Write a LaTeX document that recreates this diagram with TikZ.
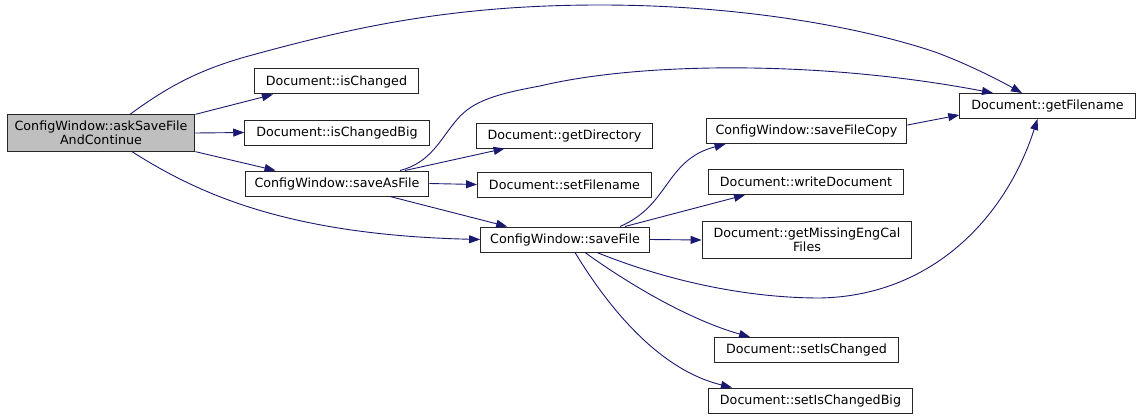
\documentclass[tikz,border=0pt]{standalone}
\usepackage{fontspec}
\setmainfont{DejaVu Sans}
\usepackage{xcolor}
\usetikzlibrary{arrows.meta}

\definecolor{midnight}{HTML}{191970}

\begin{document}
\begin{tikzpicture}[
    x=1pt, y=-1pt,
    fn/.style={
        rectangle,
        draw=black!85,
        line width=1pt,
        fill=white,
        align=center,
        inner xsep=11.5pt,
        inner ysep=6pt,
        minimum height=25pt,
        font=\fontsize{12.7}{14.5}\selectfont
    },
    cw/.style={fn, inner xsep=9.5pt},
    caller/.style={fn, fill=black!25, inner xsep=7.5pt},
    call/.style={draw=midnight, line width=0.9pt, -{Triangle[length=11pt, width=8pt]}}
]
\useasboundingbox (0,0) rectangle (1141,420);

% Caller
\node[caller] (ask) at (101,133) {ConfigWindow::askSaveFile\\AndContinue};

% First level
\node[fn] (ic)  at (336.5,81.5) {Document::isChanged};
\node[fn] (icb) at (337,132.5)  {Document::isChangedBig};
\node[cw] (saf) at (337,183.5)  {ConfigWindow::saveAsFile};

% Second level
\node[fn] (gd)  at (564.5,135.5) {Document::getDirectory};
\node[fn] (sfn) at (564.5,184.5) {Document::setFilename};
\node[cw] (sf)  at (565,239.5)   {ConfigWindow::saveFile};

% Third level
\node[cw] (sfc)  at (806.5,131) {ConfigWindow::saveFileCopy};
\node[fn] (wd)   at (806,182)   {Document::writeDocument};
\node[fn] (gm)   at (807,240)   {Document::getMissingEngCal\\Files};
\node[fn] (sic)  at (806.5,350) {Document::setIsChanged};
\node[fn] (sicb) at (810.5,400.5) {Document::setIsChangedBig};

% Last level
\node[fn] (gf) at (1047.5,106) {Document::getFilename};

% Calls of askSaveFileAndContinue
\draw[call] ([xshift=29pt]ask.north)
    .. controls (170,85) and (200,70) .. (245,57)
    .. controls (350,28) and (450,5) .. (600,5)
    .. controls (750,5) and (870,30) .. (935,52)
    .. controls (965,63) and (995,78) .. ([xshift=-25.5pt]gf.north);
\draw[call] (ask.north east) -- ([xshift=19pt]ic.south west);
\draw[call] (ask.east) -- (icb.west);
\draw[call] (ask.south east) -- ([xshift=31pt]saf.north west);
\draw[call] ([xshift=31pt]ask.south)
    .. controls (200,195) and (290,235) .. (sf.west);

% Calls of saveAsFile
\draw[call] ([xshift=63pt]saf.north)
    .. controls (430,163) and (440,140) .. (455,122)
    .. controls (470,103) and (490,95) .. (540,86)
    .. controls (640,62) and (820,60) .. ([xshift=-54.5pt]gf.north);
\draw[call] ([xshift=68pt]saf.north) -- ([xshift=29pt]gd.south west);
\draw[call] (saf.east) -- (sfn.west);
\draw[call] ([xshift=53pt]saf.south) -- ([xshift=27pt]sf.north west);

% Calls of saveFile
\draw[call] ([xshift=55pt]sf.north)
    .. controls (670,205) and (665,160) .. ([xshift=20pt]sfc.south west);
\draw[call] ([xshift=60pt]sf.north) -- ([xshift=37pt]wd.south west);
\draw[call] (sf.east) -- (gm.west);
\draw[call] ([xshift=32pt]sf.south)
    .. controls (660,278) and (740,298) .. (820,298)
    .. controls (930,296) and (1005,220) .. ([xshift=-10pt]gf.south);
\draw[call] ([xshift=20pt]sf.south)
    .. controls (630,285) and (690,320) .. ([xshift=36pt]sic.north west);
\draw[call] ([xshift=10pt]sf.south)
    .. controls (610,310) and (660,370) .. ([xshift=24pt]sicb.north west);

% Call of saveFileCopy
\draw[call] ([yshift=6pt]sfc.east) -- ([yshift=-9pt]gf.west);

\end{tikzpicture}
\end{document}
